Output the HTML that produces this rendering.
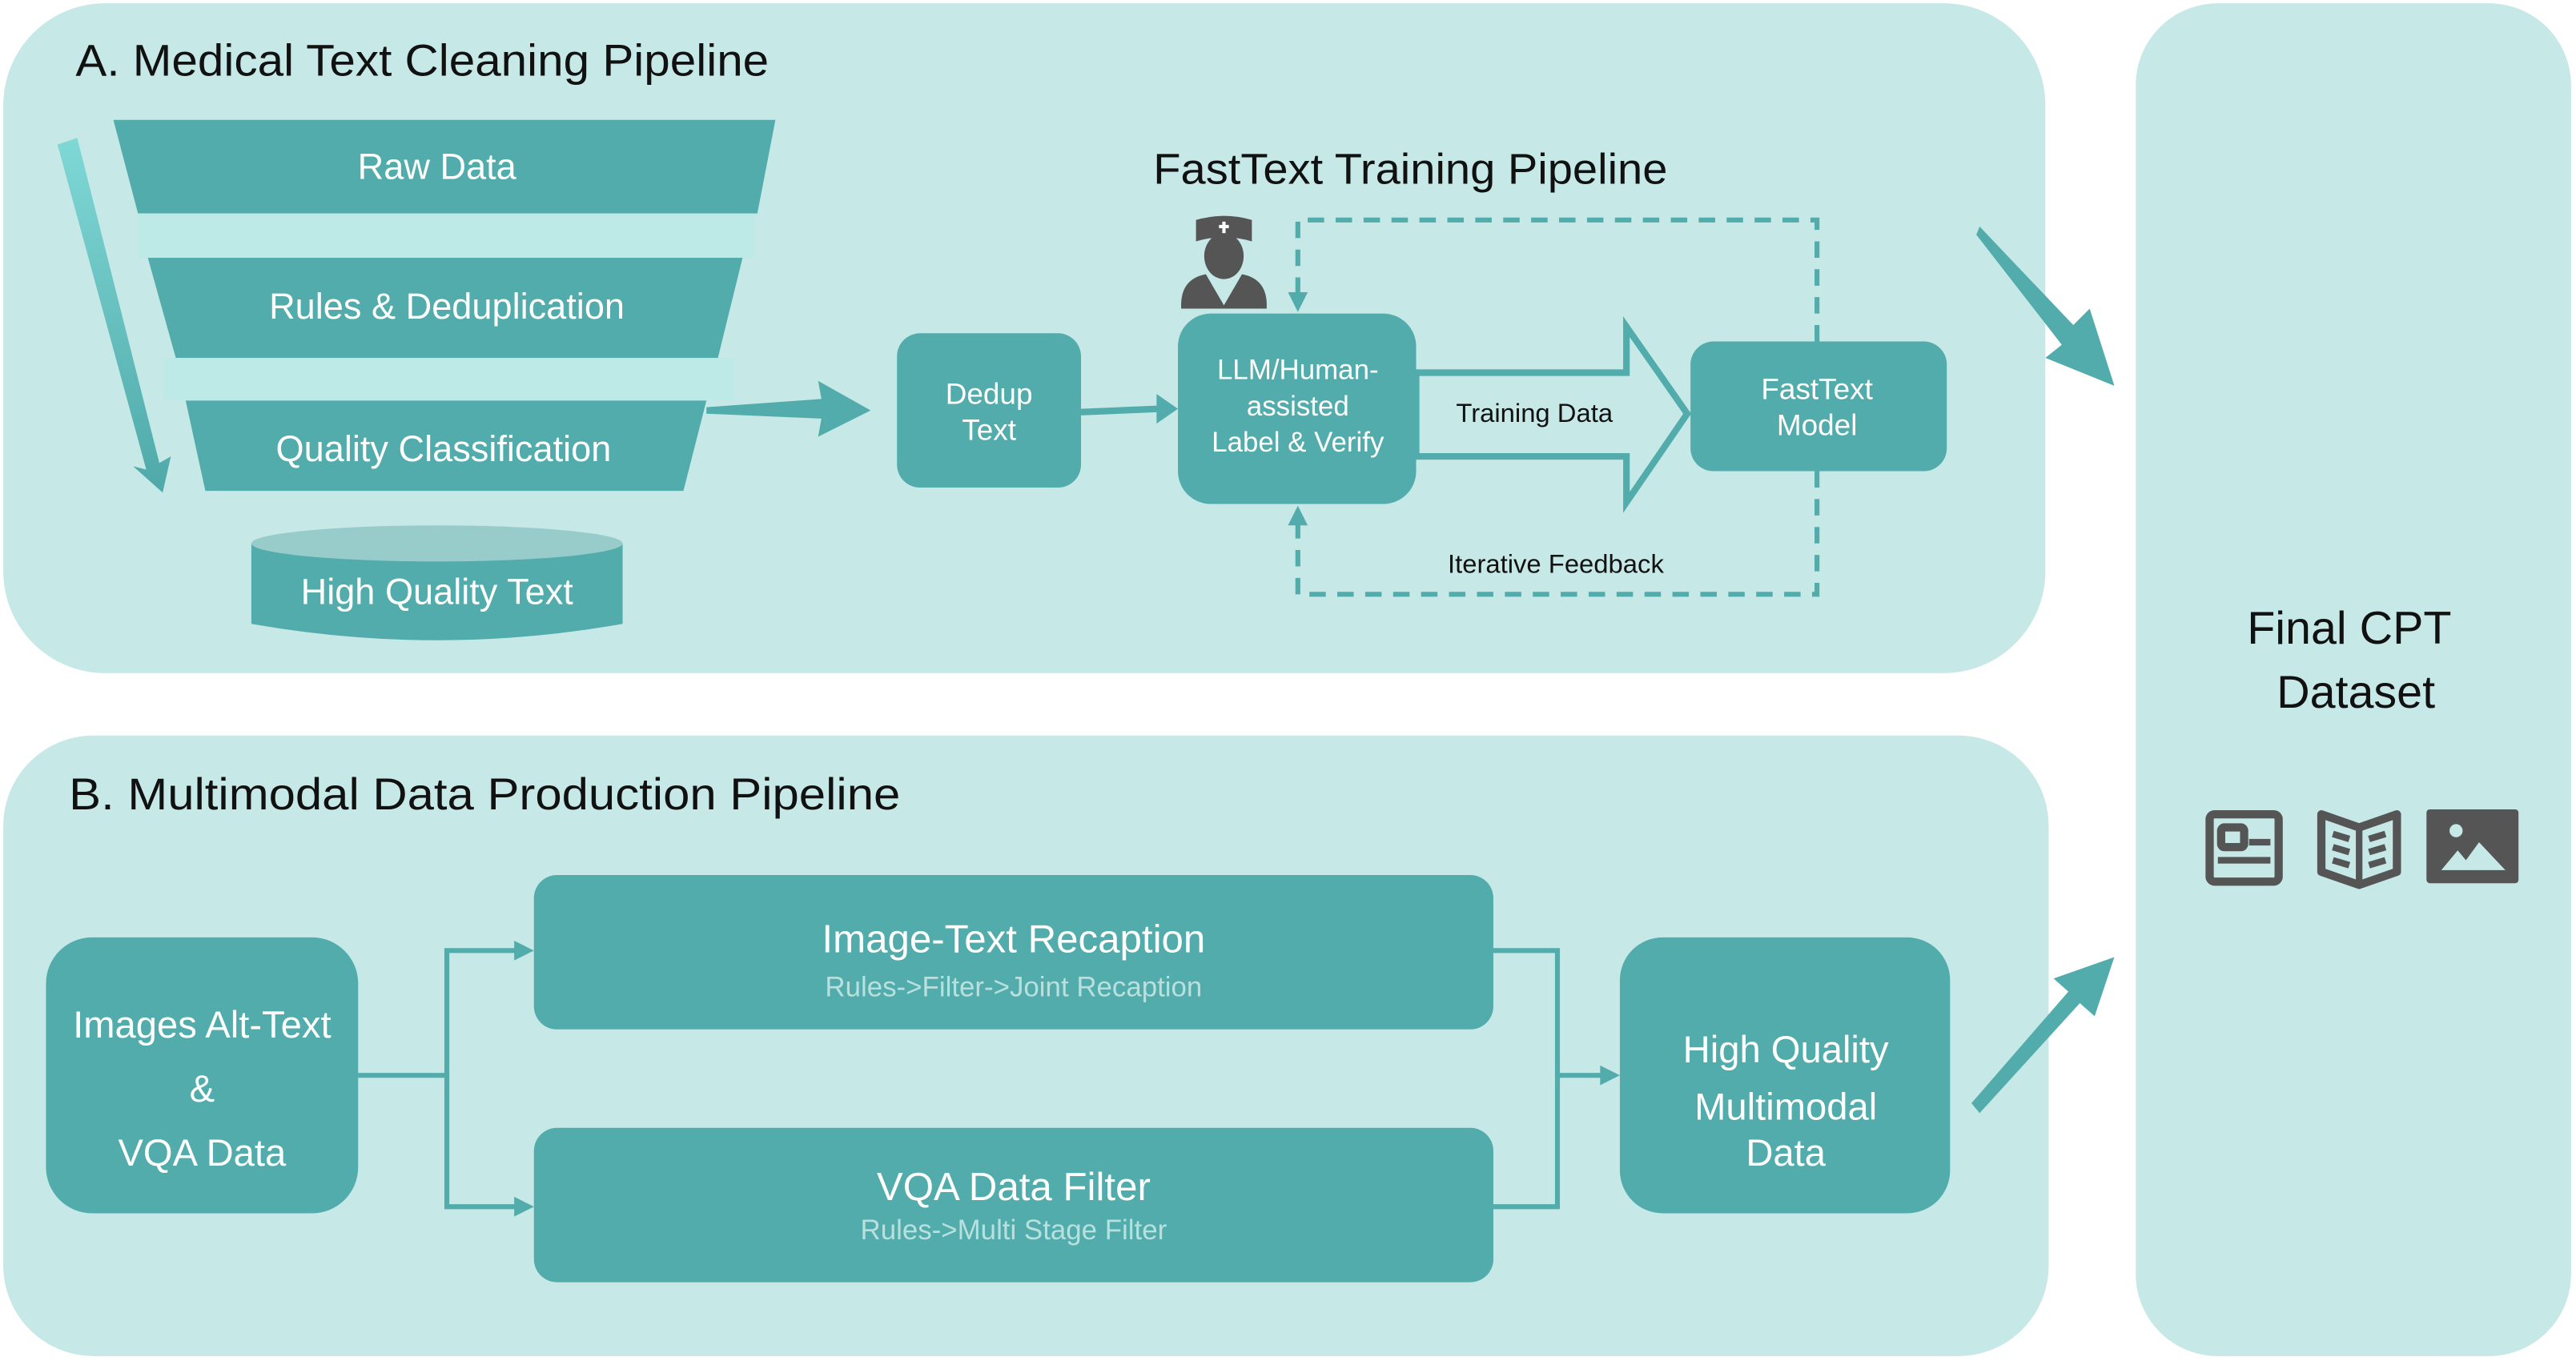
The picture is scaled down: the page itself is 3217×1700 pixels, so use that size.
<!DOCTYPE html>
<html><head><meta charset="utf-8"><style>
html,body{margin:0;padding:0;background:#fff}
svg{display:block}
text{font-family:"Liberation Sans",sans-serif}
</style></head><body>
<svg width="3217" height="1700" viewBox="0 0 1568 829" preserveAspectRatio="none" xmlns="http://www.w3.org/2000/svg">
<defs>
<linearGradient id="g1" x1="0" y1="0" x2="0" y2="1"><stop offset="0" stop-color="#7fd8d6"/><stop offset="1" stop-color="#4fa9a8"/></linearGradient>
</defs>
<rect width="1568" height="829" fill="#fff"/>
<rect x="2" y="2" width="1243" height="408" rx="62" fill="#c6e8e7"/>
<rect x="2" y="448" width="1245" height="378" rx="55" fill="#c6e8e7"/>
<rect x="1300" y="2" width="265" height="824" rx="50" fill="#c6e8e7"/>

<text x="46" y="46" font-size="27" fill="#111" textLength="422" lengthAdjust="spacingAndGlyphs">A. Medical Text Cleaning Pipeline</text>
<text x="42" y="493" font-size="27" fill="#111" textLength="506" lengthAdjust="spacingAndGlyphs">B. Multimodal Data Production Pipeline</text>
<text x="702" y="112" font-size="26" fill="#111" textLength="313" lengthAdjust="spacingAndGlyphs">FastText Training Pipeline</text>

<polygon points="69,73 472,73 461,130 84,130" fill="#52acab"/>
<rect x="84" y="130" width="375" height="27" fill="#bde9e6"/>
<polygon points="90,157 452,157 437,218 107,218" fill="#52acab"/>
<rect x="100" y="218" width="347" height="26" fill="#bde9e6"/>
<polygon points="113,244 430,244 416,299 125,299" fill="#52acab"/>
<text x="266" y="109" font-size="22" fill="#fff" text-anchor="middle">Raw Data</text>
<text x="272" y="194" font-size="22" fill="#fff" text-anchor="middle">Rules &amp; Deduplication</text>
<text x="270" y="281" font-size="22" fill="#fff" text-anchor="middle">Quality Classification</text>
<polygon points="35,88 47,84 97,282 104,278 99,300 81,284 89,286" fill="url(#g1)"/>
<path d="M153,331 L153,380 Q266,400 379,380 L379,331 Z" fill="#52acab"/>
<ellipse cx="266" cy="331" rx="113" ry="11" fill="#98cccb"/>
<text x="266" y="368" font-size="22" fill="#fff" text-anchor="middle">High Quality Text</text>

<polygon points="430,248 500,243 498,232 530,250 498,266 500,255 430,252" fill="#52acab"/>
<rect x="546" y="203" width="112" height="94" rx="14" fill="#52acab"/>
<text x="602" y="246" font-size="18" fill="#fff" text-anchor="middle">Dedup</text>
<text x="602" y="268" font-size="18" fill="#fff" text-anchor="middle">Text</text>
<line x1="658" y1="251" x2="706" y2="249" stroke="#52acab" stroke-width="4"/>
<polygon points="704,240 717,249 704,258" fill="#52acab"/>

<rect x="717" y="191" width="145" height="116" rx="20" fill="#52acab"/>
<text x="790" y="231" font-size="17" fill="#fff" text-anchor="middle">LLM/Human-</text>
<text x="790" y="253" font-size="17" fill="#fff" text-anchor="middle">assisted</text>
<text x="790" y="275" font-size="17" fill="#fff" text-anchor="middle">Label &amp; Verify</text>
<g fill="#555">
<path d="M728,134 Q745,129 762,134 L762,147 Q745,142 728,147 Z"/>
<ellipse cx="745" cy="156" rx="12" ry="14"/>
<path d="M719,188 Q718,170 734,167 L745,186 L756,167 Q772,170 771,188 Z"/>
</g>
<rect x="744" y="135" width="2" height="7" fill="#fff"/><rect x="742" y="137" width="6" height="2" fill="#fff"/>

<polygon points="862,227 990,227 990,199 1027,252 990,306 990,278 862,278" fill="#c6e8e7" stroke="#52acab" stroke-width="4"/>
<text x="934" y="257" font-size="16" fill="#111" text-anchor="middle">Training Data</text>

<rect x="1029" y="208" width="156" height="79" rx="14" fill="#52acab"/>
<text x="1106" y="243" font-size="18" fill="#fff" text-anchor="middle">FastText</text>
<text x="1106" y="265" font-size="18" fill="#fff" text-anchor="middle">Model</text>

<g fill="none" stroke="#52acab" stroke-width="3" stroke-dasharray="10,7">
<polyline points="1106,208 1106,134 790,134 790,180"/>
<polyline points="1106,287 1106,362 790,362 790,318"/>
</g>
<polygon points="784,178 796,178 790,190" fill="#52acab"/>
<polygon points="784,320 796,320 790,308" fill="#52acab"/>
<text x="947" y="349" font-size="16" fill="#111" text-anchor="middle">Iterative Feedback</text>

<polygon points="1205,138 1262,198 1272,188 1287,235 1245,218 1255,210 1203,143" fill="#52acab"/>
<polygon points="1200,672 1259,604 1250,596 1287,583 1275,619 1266,611 1205,678" fill="#52acab"/>

<text x="1430" y="392" font-size="28" fill="#111" text-anchor="middle">Final CPT</text>
<text x="1434" y="431" font-size="28" fill="#111" text-anchor="middle">Dataset</text>
<g fill="none" stroke="#555" stroke-width="5">
<rect x="1345" y="496" width="42" height="41" rx="3"/>
<rect x="1352" y="504" width="14" height="12" rx="2"/>
</g>
<rect x="1369" y="511" width="13" height="4" fill="#555"/>
<rect x="1350" y="522" width="32" height="4" fill="#555"/>
<path d="M1413,496 L1436,504 L1459,496 L1459,531 L1436,539 L1413,531 Z" fill="none" stroke="#555" stroke-width="5" stroke-linejoin="round"/>
<line x1="1436" y1="504" x2="1436" y2="539" stroke="#555" stroke-width="4"/>
<g stroke="#555" stroke-width="4"><line x1="1420" y1="508" x2="1430" y2="511"/><line x1="1420" y1="516" x2="1430" y2="519"/><line x1="1420" y1="524" x2="1430" y2="527"/><line x1="1442" y1="511" x2="1452" y2="508"/><line x1="1442" y1="519" x2="1452" y2="516"/><line x1="1442" y1="527" x2="1452" y2="524"/></g>
<rect x="1477" y="493" width="56" height="45" rx="2" fill="#555"/>
<circle cx="1495" cy="506" r="4" fill="#c6e8e7"/>
<polygon points="1486,530 1496,518 1501,524 1509,513 1525,530" fill="#c6e8e7"/>

<rect x="28" y="571" width="190" height="168" rx="28" fill="#52acab"/>
<text x="123" y="632" font-size="23" fill="#fff" text-anchor="middle">Images Alt-Text</text>
<text x="123" y="671" font-size="23" fill="#fff" text-anchor="middle">&amp;</text>
<text x="123" y="710" font-size="23" fill="#fff" text-anchor="middle">VQA Data</text>
<g fill="none" stroke="#52acab" stroke-width="3">
<polyline points="218,655 272,655"/>
<polyline points="315,579 272,579 272,735 315,735"/>
<polyline points="909,579 948,579 948,735 909,735"/>
<polyline points="948,655 975,655"/>
</g>
<polygon points="313,573 325,579 313,585" fill="#52acab"/>
<polygon points="313,729 325,735 313,741" fill="#52acab"/>
<polygon points="974,649 986,655 974,661" fill="#52acab"/>

<rect x="325" y="533" width="584" height="94" rx="14" fill="#52acab"/>
<text x="617" y="580" font-size="24" fill="#fff" text-anchor="middle">Image-Text Recaption</text>
<text x="617" y="607" font-size="17" fill="#b8e0de" text-anchor="middle">Rules-&gt;Filter-&gt;Joint Recaption</text>
<rect x="325" y="687" width="584" height="94" rx="14" fill="#52acab"/>
<text x="617" y="731" font-size="24" fill="#fff" text-anchor="middle">VQA Data Filter</text>
<text x="617" y="755" font-size="17" fill="#b8e0de" text-anchor="middle">Rules-&gt;Multi Stage Filter</text>

<rect x="986" y="571" width="201" height="168" rx="26" fill="#52acab"/>
<text x="1087" y="647" font-size="23" fill="#fff" text-anchor="middle">High Quality</text>
<text x="1087" y="682" font-size="23" fill="#fff" text-anchor="middle">Multimodal</text>
<text x="1087" y="710" font-size="23" fill="#fff" text-anchor="middle">Data</text>
</svg>
</body></html>
